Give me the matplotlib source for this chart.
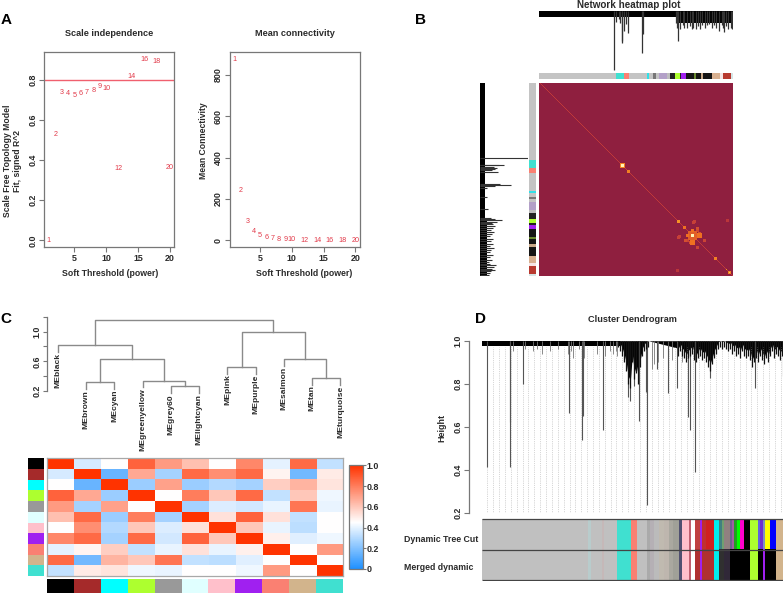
import matplotlib
matplotlib.use("Agg")
import matplotlib.pyplot as plt
import numpy as np
from matplotlib.colors import LinearSegmentedColormap

plt.rcParams['font.family'] = ['Liberation Sans', 'DejaVu Sans']
plt.rcParams['font.weight'] = 'bold'
plt.rcParams['axes.linewidth'] = 0.9

W, H = 784, 594
DARK = '#2A2A2A'
EDGE = '#777777'
RED = '#E23A4A'

# A: soft threshold
powers = [1, 2, 3, 4, 5, 6, 7, 8, 9, 10, 12, 14, 16, 18, 20]
fit_r2 = [0.0, 0.528, 0.738, 0.733, 0.725, 0.733, 0.74, 0.748, 0.767, 0.758,
          0.358, 0.82, 0.903, 0.893, 0.363]
mean_k = [874, 242, 92, 42, 23, 13, 8, 5, 3, 2, 1, 0.5, 0.5, 0.5, 0.5]

# B: network heatmap
module_edges = [0, 231, 256, 270, 325, 331, 343, 351, 359, 383, 393, 409, 423, 427,
                441, 465, 471, 485, 493, 500, 520, 543, 551, 576, 581]
module_colors = ['#C4C4C4', '#40E0D0', '#FA8072', '#C4C4C4', '#30E0E8', '#C4C4C4',
                 '#777777', '#C4C4C4', '#B3A0C8', '#BDBDBD', '#222222', '#ADFF2F',
                 '#222222', '#A020F0', '#151515', '#6A8A30', '#151515', '#C8A888',
                 '#151515', '#151515', '#D8B090', '#F5E5E5', '#B83A30', '#D5E5E5']
top_x = [226, 232, 240, 244, 249, 250, 255, 262, 268, 310, 312, 410, 413, 418, 422, 432,
         435, 445, 452, 458, 463, 470, 476, 482, 490, 497, 503, 510, 518, 525, 532,
         540, 548, 552, 556, 562, 568, 575, 580]
top_low = [0.02, 0.82, 0.86, 0.80, 0.505, 0.47, 0.66, 0.78, 0.63, 0.30, 0.62, 0.80, 0.72,
           0.49, 0.70, 0.76, 0.72, 0.72, 0.74, 0.70, 0.72, 0.70, 0.74, 0.70, 0.76, 0.72,
           0.76, 0.78, 0.72, 0.76, 0.72, 0.67, 0.76, 0.72, 0.65, 0.74, 0.70, 0.72, 0.70]
left_y = [226, 246, 248, 254, 256, 258, 262, 268, 305, 307, 310, 315, 345, 380,
          408, 410, 412, 414, 418, 422, 425, 430, 436, 442, 448, 455, 462, 470, 476, 484,
          490, 496, 503, 510, 518, 525, 532, 540, 546, 549, 553, 560, 562, 566, 572, 578]
left_low = [127, 55, 40, 25, 35, 30, 20, 37, 45, 78, 30, 6, 5, 8,
            18, 30, 22, 50, 35, 20, 24, 28, 22, 18, 25, 20, 16, 22, 18, 22, 14, 26, 18, 16,
            24, 14, 20, 12, 16, 33, 26, 20, 30, 18, 14, 12]
spot_row = [83, 83, 89, 139, 145, 153, 153, 148, 160, 176, 187, 190, 190, 138, 154, 139,
            151, 188, 158, 146, 165]
spot_col = [83, 83, 89, 139, 145, 153, 153, 153, 153, 176, 187, 190, 190, 188, 140, 155,
            160, 138, 148, 158, 158]
spot_size = [2, 1, 1, 1, 1, 4, 1, 1, 2, 1, 0, 1, 0, 1, 1, 1, 1, 1, 1, 1, 1]
spot_val = [0.55, 0.95, 0.55, 0.6, 0.5, 0.42, 0.95, 0.5, 0.5, 0.55, 0.6, 0.55, 0.8,
            0.2, 0.28, 0.28, 0.35, 0.22, 0.3, 0.35, 0.3]

# C: module eigengenes
me_names = ['MEblack', 'MEbrown', 'MEcyan', 'MEgreenyellow', 'MEgrey60', 'MElightcyan',
            'MEpink', 'MEpurple', 'MEsalmon', 'MEtan', 'MEturquoise']
me_colors = ['#000000', '#A52A2A', '#00FFFF', '#ADFF2F', '#999999', '#E0FFFF',
             '#FFC0CB', '#A020F0', '#FA8072', '#D2B48C', '#40E0D0']
link_x1 = [2, 5, 4, 2.5, 1, 7, 10, 9, 7.5, 2.31]
link_x2 = [3, 6, 5.5, 4.75, 3.625, 8, 11, 10.5, 9.75, 8.625]
link_h = [0.317, 0.263, 0.339, 0.627, 0.816, 0.524, 0.375, 0.627, 1.0, 1.153]
link_y1 = [0.227, 0.173, 0.249, 0.317, 0.726, 0.434, 0.285, 0.537, 0.524, 0.816]
link_y2 = [0.227, 0.173, 0.263, 0.339, 0.627, 0.434, 0.285, 0.375, 0.627, 1.0]
leaf_low = [0.726, 0.227, 0.227, 0.249, 0.173, 0.173, 0.434, 0.434, 0.537, 0.285, 0.285]
me_corr = [
    [1.0, .37, .45, .87, .72, .62, .45, .77, .40, .85, .33],
    [.37, 1.0, .15, .68, .27, .85, .75, .85, .48, .17, .50],
    [.45, .15, 1.0, .25, .70, .25, .30, .27, .58, .65, .52],
    [.87, .68, .25, 1.0, .45, .80, .60, .85, .33, .60, .42],
    [.72, .27, .70, .45, 1.0, .27, .38, .36, .41, .82, .41],
    [.62, .85, .25, .80, .27, 1.0, .53, .87, .53, .33, .45],
    [.45, .75, .30, .60, .38, .53, 1.0, .60, .41, .32, .45],
    [.77, .85, .27, .85, .36, .87, .60, 1.0, .49, .39, .42],
    [.40, .48, .58, .33, .41, .53, .41, .49, 1.0, .45, .72],
    [.85, .17, .65, .60, .82, .33, .32, .39, .45, 1.0, .45],
    [.33, .50, .52, .42, .41, .45, .45, .42, .72, .45, 1.0],
]

# D: cluster dendrogram
spike_x = [17, 84, 84, 125, 262, 301, 303, 364, 496, 493, 472, 440, 446, 458, 620,
           625, 640, 587, 558, 525, 821, 685, 903]
spike_low = [0.414, 0.414, 0.62, 0.80, 0.665, 0.54, 0.65, 0.585, 0.236, 0.76, 0.625,
             0.74, 0.72, 0.79, 0.646, 0.585, 0.39, 0.78, 0.758, 0.87, 0.778, 0.825, 0.837]
short_x = [95, 130, 155, 165, 182, 205, 230, 260, 268, 275, 292, 305, 308, 345, 370, 385,
           395, 402, 405, 510, 518, 530, 545, 570, 600]
short_low = [.95, .96, .95, .96, .94, .95, .96, .94, .95, .92, .96, .95, .92, .94, .93,
             .95, .94, .95, .93, .87, .89, .90, .92, .91, .90]
mass_x = [410, 416, 422, 428, 434, 440, 446, 452, 458, 464, 470, 476, 482, 488, 494, 500,
          590, 596, 602, 608, 614, 620, 626, 632, 638, 644, 650, 656, 662, 668, 674,
          680, 686, 692, 698, 704, 710, 716, 722, 728, 734, 740, 746, 752, 758, 764,
          770, 776, 782, 788, 794, 800, 806, 812, 818, 824, 830, 836, 842, 848, 854,
          860, 866, 872, 878, 884, 890, 896, 902]
mass_low = [.97, .95, .93, .90, .86, .80, .78, .90, .82, .85, .80, .88, .93, .95, .96, .97,
            .93, .95, .93, .92, .90, .92, .93, .94, .91, .90, .92, .93, .91, .92, .90,
            .88, .86, .89, .92, .94, .96, .97, .96, .97, .96, .95, .96, .94, .95, .93,
            .94, .92, .95, .93, .92, .93, .91, .88, .90, .92, .90, .93, .91, .89, .92,
            .90, .93, .95, .92, .94, .93, .91, .93]
row_edges = [0, 320, 327, 360, 367, 405, 448, 465, 495, 503, 517, 530, 545, 560, 573, 591,
             599, 621, 627, 638, 653, 660, 671, 695, 711, 719, 727, 743, 751, 757, 765,
             775, 787, 805, 827, 835, 843, 848, 863, 881, 902]
dynamic_colors = ['#C0C0C0', '#B8CCCC', '#C0C0C0', '#C5B8B8', '#C0C0C0', '#40E0D0',
                  '#FA8072', '#C0C0C0', '#AAAAAA', '#B5B0B5', '#BBBBBB', '#C0BAB0',
                  '#BEB6AE', '#AAA8A0', '#A0A098', '#505070', '#FFC0CB', '#C06070',
                  '#FFFFFF', '#C04040', '#A020F0', '#C03030', '#D02020', '#00EEEE',
                  '#408080', '#70A070', '#908080', '#706090', '#A060A0', '#20A020',
                  '#00FF00', '#FF00CC', '#000000', '#ADFF2F', '#6060E0', '#7030D0',
                  '#8090C0', '#FFFF00', '#0000FF', '#D2B48C']
merged_colors = ['#C0C0C0', '#B8CCCC', '#C0C0C0', '#C5B8B8', '#C0C0C0', '#40E0D0',
                 '#FA8072', '#C0C0C0', '#AAAAAA', '#B5B0B5', '#BBBBBB', '#C0BAB0',
                 '#BEB6AE', '#AAA8A0', '#A0A098', '#505070', '#FFC0CB', '#C06070',
                 '#FFFFFF', '#B03030', '#A020F0', '#B03030', '#B03030', '#00EEEE',
                 '#303030', '#303030', '#302838', '#000000', '#000000', '#000000',
                 '#000000', '#000000', '#000000', '#ADFF2F', '#000000', '#000000',
                 '#A020F0', '#000000', '#000000', '#D2B48C']


def axpx(x0, y0, x1, y1):
    return fig.add_axes([x0 / W, 1 - y1 / H, (x1 - x0) / W, (y1 - y0) / H])


def tpx(x, y, s, **kw):
    kw.setdefault('ha', 'center')
    kw.setdefault('va', 'center')
    kw.setdefault('color', DARK)
    fig.text(x / W, 1 - y / H, s, **kw)


def style_box(ax):
    for sp in ax.spines.values():
        sp.set_color(EDGE)
    ax.tick_params(colors=DARK, labelcolor=DARK, labelsize=6.4, length=3.5, width=0.8,
                   color=EDGE, pad=1.5)
    for lab in ax.get_yticklabels():
        lab.set_rotation(90)
        lab.set_va('center')


def color_strip(ax, edges, colors, vertical=False):
    widths = np.diff(edges)
    if vertical:
        ax.bar([0] * len(colors), widths, 1, bottom=edges[:-1], color=colors, align='edge')
        ax.set_ylim(edges[-1], edges[0])
        ax.set_xlim(0, 1)
    else:
        ax.bar(edges[:-1], 1, widths, color=colors, align='edge')
        ax.set_xlim(edges[0], edges[-1])
        ax.set_ylim(0, 1)
    ax.axis('off')


fig = plt.figure(figsize=(W / 100, H / 100), dpi=100)

# panel letters and titles
tpx(6, 20, 'A', fontsize=11, color='black')
tpx(420, 20, 'B', fontsize=11, color='black')
tpx(6, 319, 'C', fontsize=11, color='black')
tpx(481, 319, 'D', fontsize=11, color='black')
tpx(109, 34, 'Scale independence', fontsize=6.6)
tpx(295, 33, 'Mean connectivity', fontsize=6.6)
tpx(629, 4.5, 'Network heatmap plot', fontsize=7.1)
tpx(632, 320, 'Cluster Dendrogram', fontsize=6.6)

# A left
ax = axpx(44.3, 52, 174, 247)
ax.set_xlim(0.28, 20.68)
ax.set_ylim(-0.033, 0.94)
ax.axhline(0.8, color='#F0606E', lw=1)
for p, v in zip(powers, fit_r2):
    ax.text(p, v, str(p), color=RED, fontsize=5.2, ha='center', va='center', fontweight='normal')
ax.set_xticks([5, 10, 15, 20])
ax.set_yticks([0, 0.2, 0.4, 0.6, 0.8])
ax.set_yticklabels(['0.0', '0.2', '0.4', '0.6', '0.8'])
style_box(ax)
tpx(110, 273, 'Soft Threshold (power)', fontsize=6.3)
tpx(12.5, 161, 'Scale Free Topology Model\nFit, signed R^2', fontsize=6.2, rotation=90,
    linespacing=1.25)

# A right
ax = axpx(230, 52, 360, 247)
ax.set_xlim(0.27, 20.75)
ax.set_ylim(-32.4, 911)
for p, v in zip(powers, mean_k):
    ax.text(p, v, str(p), color=RED, fontsize=5.2, ha='center', va='center', fontweight='normal')
ax.set_xticks([5, 10, 15, 20])
ax.set_yticks([0, 200, 400, 600, 800])
style_box(ax)
tpx(304, 273, 'Soft Threshold (power)', fontsize=6.3)
tpx(203, 141, 'Mean Connectivity', fontsize=6.2, rotation=90)

# B heatmap
net = np.zeros((194, 194))
for i in range(194):
    net[i, i] = 0.25
for r, c, s, v in zip(spot_row, spot_col, spot_size, spot_val):
    net[r - s:r + s + 1, c - s:c + s + 1] = np.maximum(net[r - s:r + s + 1, c - s:c + s + 1], v)
    net[c - s:c + s + 1, r - s:r + s + 1] = np.maximum(net[c - s:c + s + 1, r - s:r + s + 1], v)
heat_cmap = LinearSegmentedColormap.from_list(
    'net', ['#8F1F3F', '#C23A3A', '#F07020', '#FFC830', '#FFFFD8'])
ax = axpx(539, 82.7, 732.7, 276)
ax.imshow(net, cmap=heat_cmap, vmin=0, vmax=1, aspect='auto', interpolation='bilinear')
ax.axis('off')

ax = axpx(539, 72.7, 732.7, 79.3)
color_strip(ax, module_edges, module_colors)
ax = axpx(529, 82.7, 536, 276)
color_strip(ax, module_edges, module_colors, vertical=True)

# B top dendrogram
ax = axpx(539, 10.7, 732.7, 71)
ax.set_xlim(0, 581)
ax.set_ylim(0, 1)
ax.bar(0, 0.10, 581, bottom=0.90, color='black', align='edge')
ax.bar(412, 0.20, 169, bottom=0.80, color='black', align='edge')
ax.vlines(top_x, top_low, 1, color='#333333', lw=0.9)
ax.axis('off')

# B left dendrogram
ax = axpx(480, 82.7, 528, 276)
ax.set_ylim(581, 0)
ax.set_xlim(0, 142)
ax.barh(0, 15, 581, color='black', align='edge')
ax.barh(408, 21, 173, color='black', align='edge')
ax.hlines(left_y, 0, [15 + v for v in left_low], color='#333333', lw=0.8)
ax.axis('off')

# C dendrogram
ax = axpx(46.7, 316.8, 343.3, 391)
ax.set_xlim(0.6, 11.1)
ax.set_ylim(0.2, 1.2)
for x1, x2, h, y1, y2 in zip(link_x1, link_x2, link_h, link_y1, link_y2):
    ax.plot([x1, x1, x2, x2], [y1, h, h, y2], color='#8A8A8A', lw=1.0, clip_on=False)
for i, name in enumerate(me_names):
    ax.text(i + 1, leaf_low[i] - 0.012, name, rotation=90, ha='center', va='top',
            fontsize=6.1, color=DARK, clip_on=False)
for side in ['top', 'right', 'bottom']:
    ax.spines[side].set_visible(False)
ax.set_xticks([])
ax.set_yticks([0.2, 0.4, 0.6, 0.8, 1.0, 1.2])
ax.set_yticklabels(['0.2', '', '0.6', '', '1.0', ''])
style_box(ax)
ax.tick_params(pad=0.5, length=3)

# C heatmap
corr_cmap = LinearSegmentedColormap.from_list(
    'corr', [(0, '#1E90FF'), (0.45, '#FFFFFF'), (1, '#FF3300')])
ax = axpx(46.7, 458.3, 343.3, 575.7)
mesh = ax.imshow(me_corr, cmap=corr_cmap, vmin=0, vmax=1, aspect='auto', interpolation='nearest')
ax.set_xticks([])
ax.set_yticks([])
for sp in ax.spines.values():
    sp.set_color('#A8A8A8')

edges = list(range(len(me_colors) + 1))
ax = axpx(46.7, 579, 343.3, 593)
color_strip(ax, edges, me_colors)
ax = axpx(28.3, 458.3, 44.3, 576)
color_strip(ax, edges, me_colors, vertical=True)

cax = axpx(349.3, 465.3, 362.7, 569)
cb = fig.colorbar(mesh, cax=cax)
cb.set_ticks([0, 0.2, 0.4, 0.6, 0.8, 1.0])
cb.set_ticklabels(['0', '0.2', '0.4', '0.6', '0.8', '1.0'])
cb.outline.set_edgecolor(EDGE)
cax.tick_params(labelsize=6.4, length=2.5, width=0.8, color=EDGE, labelcolor=DARK, pad=0.5)

# D dendrogram
ax = axpx(481.7, 340.7, 782.7, 512.7)
ax.set_xlim(0, 903)
ax.set_ylim(0.2, 1.0)
ax.vlines(np.arange(17, 903, 17.6), 0.2, 0.97, color='#B0B0B0', lw=0.5, linestyles=':')
ax.bar(0, 0.023, 415, bottom=0.977, color='black', align='edge')
ax.vlines(short_x, short_low, 1, color='#777777', lw=0.6)
ax.vlines(spike_x, spike_low, 1, color='#555555', lw=0.8)
ax.fill_between(mass_x, [min(1, v + 0.035) for v in mass_low], 1, color='black', lw=0)
ax.vlines(mass_x, mass_low, 1, color='#111111', lw=0.9)
for side in ['top', 'right', 'bottom']:
    ax.spines[side].set_visible(False)
ax.spines['left'].set_position(('outward', 9))
ax.set_xticks([])
ax.set_yticks([0.2, 0.4, 0.6, 0.8, 1.0])
ax.set_yticklabels(['0.2', '0.4', '0.6', '0.8', '1.0'])
style_box(ax)
tpx(442, 428, 'Height', fontsize=6.4, rotation=90)

# D module rows
ax = axpx(481.7, 519, 782.7, 549.3)
color_strip(ax, row_edges, dynamic_colors)
ax = axpx(481.7, 549.3, 782.7, 580)
color_strip(ax, row_edges, merged_colors)
ax = axpx(481.7, 518, 782.7, 581)
ax.patch.set_alpha(0)
ax.set_ylim(0, 3)
ax.set_xlim(0, 1)
ax.hlines([0.05, 1.47, 2.95], 0, 1, color='#444444', lw=0.9)
ax.axis('off')
tpx(404, 539, 'Dynamic Tree Cut', fontsize=6.35, ha='left')
tpx(404, 567, 'Merged dynamic', fontsize=6.35, ha='left')

fig.savefig('out.png', dpi=100)
